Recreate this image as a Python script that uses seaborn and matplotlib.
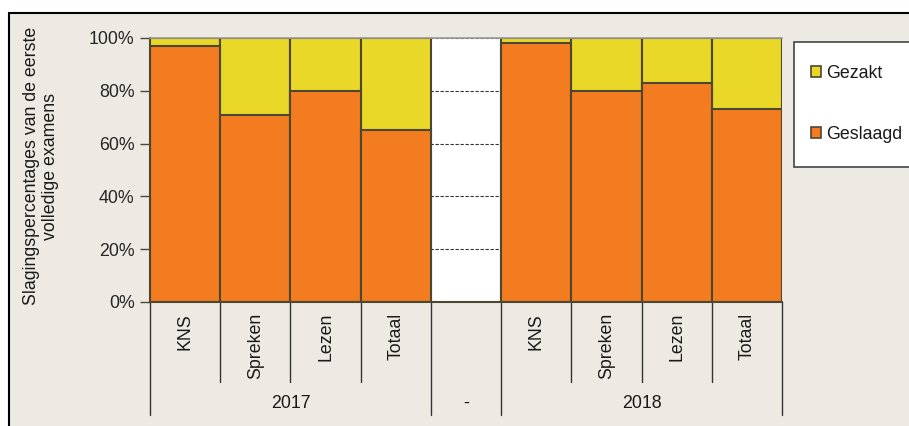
import matplotlib
matplotlib.use('Agg')
import matplotlib.pyplot as plt
import matplotlib.patches as mpatches
from matplotlib.lines import Line2D
import seaborn as sns
import pandas as pd
import numpy as np

# data
jaren = ['2017', '-', '2018']
onderdelen = ['KNS', 'Spreken', 'Lezen', 'Totaal']
geslaagd_2017 = [97, 71, 80, 65]
geslaagd_2018 = [98, 80, 83, 73]

ORANJE = '#F47C20'
GEEL = '#EAD828'
RAND = '#4B4733'
ACHTERGROND = '#EDEAE4'
FS = 12.8

#build one row per slot, the '-' slot stays empty
rows = []
for o, v in zip(onderdelen, geslaagd_2017):
    rows.append({'key': '2017 ' + o, 'label': o, 'geslaagd': v, 'totaal': 100})
rows.append({'key': '-', 'label': '', 'geslaagd': np.nan, 'totaal': np.nan})
for o, v in zip(onderdelen, geslaagd_2018):
    rows.append({'key': '2018 ' + o, 'label': o, 'geslaagd': v, 'totaal': 100})
df = pd.DataFrame(rows)
order = list(df['key'])

sns.set_style('white')
plt.rcParams['font.family'] = ['Liberation Sans', 'DejaVu Sans']
plt.rcParams['text.color'] = '#1a1a1a'

fig = plt.figure(figsize=(9.09, 4.26), dpi=100)
fig.patch.set_facecolor('white')

#beige panel with black border at top and left
fig.patches.append(mpatches.Rectangle((9 / 909, 0), 1, 1 - 13 / 426, transform=fig.transFigure,
                                      facecolor=ACHTERGROND, edgecolor='none', zorder=-10))
fig.lines.append(Line2D([9 / 909, 1], [1 - 13 / 426, 1 - 13 / 426], transform=fig.transFigure,
                        color='black', lw=1.5))
fig.lines.append(Line2D([9 / 909, 9 / 909], [0, 1 - 13 / 426], transform=fig.transFigure,
                        color='black', lw=1.5))

ax = fig.add_axes([150 / 909, 1 - 302 / 426, (782 - 150) / 909, (302 - 38) / 426])
ax.set_facecolor('white')

sns.barplot(data=df, x='key', y='totaal', order=order, color=GEEL, saturation=1,
            width=1, edgecolor=RAND, linewidth=1.5, errorbar=None, ax=ax)
sns.barplot(data=df, x='key', y='geslaagd', order=order, color=ORANJE, saturation=1,
            width=1, edgecolor=RAND, linewidth=1.5, errorbar=None, ax=ax)

ax.set_xlim(-0.5, len(order) - 0.5)
ax.set_ylim(0, 100)
ax.set_yticks([0, 20, 40, 60, 80, 100])
ax.set_yticklabels([f'{t}%' for t in [0, 20, 40, 60, 80, 100]], fontsize=FS)
ax.tick_params(axis='y', length=7, width=1, color=RAND, pad=4, left=True)
ax.set_xticks([])
ax.set_xlabel('')
ax.set_ylabel('')

ax.set_axisbelow(True)
ax.yaxis.grid(True, linestyle=(0, (3, 1.5)), color='#333333', lw=0.8)

for s in ['left', 'bottom']:
    ax.spines[s].set_color(RAND)
    ax.spines[s].set_linewidth(1.5)
ax.spines['top'].set_color('#999999')
ax.spines['top'].set_linewidth(1.2)
ax.spines['right'].set_visible(False)

#category labels and separators below the axis
tr = ax.get_xaxis_transform()
h = 264
for i, lab in enumerate(df['label']):
    ax.text(i, -11 / h, lab, rotation=90, ha='center', va='top', fontsize=FS, transform=tr)

lange = [-0.5, 3.5, 4.5, 8.5]
for b in np.arange(-0.5, len(order), 1.0):
    y_end = -(415 - 302) / h if b in lange else -(382 - 302) / h
    ax.plot([b, b], [0, y_end], color='#333333', lw=1, transform=tr, clip_on=False)

for x, j in zip([1.5, 4, 6.5], jaren):
    ax.text(x, -(403 - 302) / h, j, ha='center', va='center', fontsize=FS, transform=tr)

fig.text(41 / 909, 1 - 166 / 426, 'Slagingspercentages van de eerste\nvolledige examens',
         rotation=90, ha='center', va='center', multialignment='center', fontsize=FS)

#legend box runs off the right edge, like the original
fig.patches.append(mpatches.Rectangle((794 / 909, 1 - 167 / 426), 0.2, 125 / 426,
                                      transform=fig.transFigure, facecolor='white',
                                      edgecolor='#444444', lw=1.2, zorder=1))
handles = [mpatches.Patch(facecolor=GEEL, edgecolor=RAND, lw=1.2, label='Gezakt'),
           mpatches.Patch(facecolor=ORANJE, edgecolor=RAND, lw=1.2, label='Geslaagd')]
leg = fig.legend(handles=handles, loc='center left', bbox_to_anchor=(811 / 909, 1 - 104 / 426),
                 fontsize=FS, handlelength=0.55, handleheight=0.55, handletextpad=0.3,
                 labelspacing=2.48, borderpad=0, borderaxespad=0, frameon=False)
leg.set_zorder(2)

fig.savefig('out.png', dpi=100)
